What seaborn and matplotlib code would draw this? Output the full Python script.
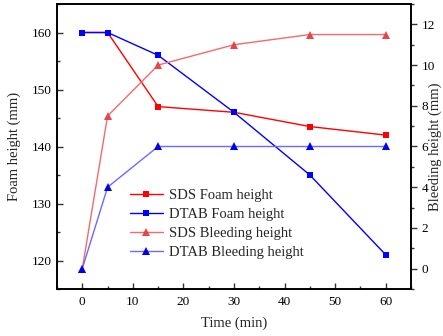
import numpy as np
import seaborn as sns
import matplotlib.pyplot as plt
from matplotlib.ticker import MultipleLocator

# data
time = [0, 5, 15, 30, 45, 60]
sds_foam = [160, 160, 147, 146, 143.5, 142]
dtab_foam = [160, 160, 156, 146, 135, 121]
sds_bleed = [0, 7.5, 10, 11, 11.5, 11.5]
dtab_bleed = [0, 4, 6, 6, 6, 6]

sns.set_style("ticks")
plt.rcParams['font.family'] = ['Liberation Serif', 'DejaVu Serif']

fig = plt.figure(figsize=(4.43, 3.36), dpi=100)
ax = fig.add_axes([57 / 443, 47 / 336, 354 / 443, 285 / 336])
ax2 = ax.twinx()

sns.lineplot(x=time, y=sds_foam, ax=ax, color='#ff0000', marker='s', markersize=5,
             markeredgewidth=0, lw=1, label='SDS Foam height', legend=False)
sns.lineplot(x=time, y=dtab_foam, ax=ax, color='#0000ff', marker='s', markersize=5,
             markeredgewidth=0, lw=1, label='DTAB Foam height', legend=False)
sns.lineplot(x=time, y=sds_bleed, ax=ax2, color='#f46a6a', marker='^', markersize=5.5,
             markerfacecolor='#e8454b', markeredgewidth=0, lw=1, label='SDS Bleeding height', legend=False)
sns.lineplot(x=time, y=dtab_bleed, ax=ax2, color='#6a6aff', marker='^', markersize=5.5,
             markerfacecolor='#0000f0', markeredgewidth=0, lw=1, label='DTAB Bleeding height', legend=False)

ax.set_xlim(-5, 65)
ax.set_ylim(115, 165)
ax2.set_ylim(-1, 13)

ax.xaxis.set_major_locator(MultipleLocator(10))
ax.xaxis.set_minor_locator(MultipleLocator(5))
ax.yaxis.set_major_locator(MultipleLocator(10))
ax.yaxis.set_minor_locator(MultipleLocator(5))
ax2.yaxis.set_major_locator(MultipleLocator(2))
ax2.yaxis.set_minor_locator(MultipleLocator(1))

ax.tick_params(axis='both', which='major', direction='in', length=4, width=1, labelsize=9.5, colors='#333333', labelcolor='black')
ax.tick_params(axis='both', which='minor', direction='in', length=2, width=1, colors='#333333')
ax.tick_params(axis='x', pad=5)
ax2.tick_params(axis='y', which='major', direction='out', length=4, width=1, labelsize=9.5, colors='#333333', labelcolor='black')
ax2.tick_params(axis='y', which='minor', direction='out', length=2, width=1, colors='#333333')

for a in (ax, ax2):
    for s in a.spines.values():
        s.set_linewidth(1.2)
        s.set_color('black')
    a.spines['top'].set_visible(True)
    a.spines['right'].set_visible(True)

ax.set_xlabel('Time (min)', fontsize=10.5, labelpad=6)
ax.set_ylabel('Foam height (mm)', fontsize=10.5, labelpad=8)
ax2.set_ylabel('Bleeding height (mm)', fontsize=10.5, rotation=90, va='center')
# the reference has this label clipped at the edge; keep it just inside
ax2.yaxis.set_label_coords(1.068, 0.5)

h1, l1 = ax.get_legend_handles_labels()
h2, l2 = ax2.get_legend_handles_labels()
ax.legend(h1 + h2, l1 + l2, loc='upper left', bbox_to_anchor=(0.205, 0.352), frameon=False,
          fontsize=10.5, handlelength=2.3, handletextpad=0.4, labelspacing=0.4,
          borderpad=0, borderaxespad=0)

fig.savefig('out.png', dpi=100)
